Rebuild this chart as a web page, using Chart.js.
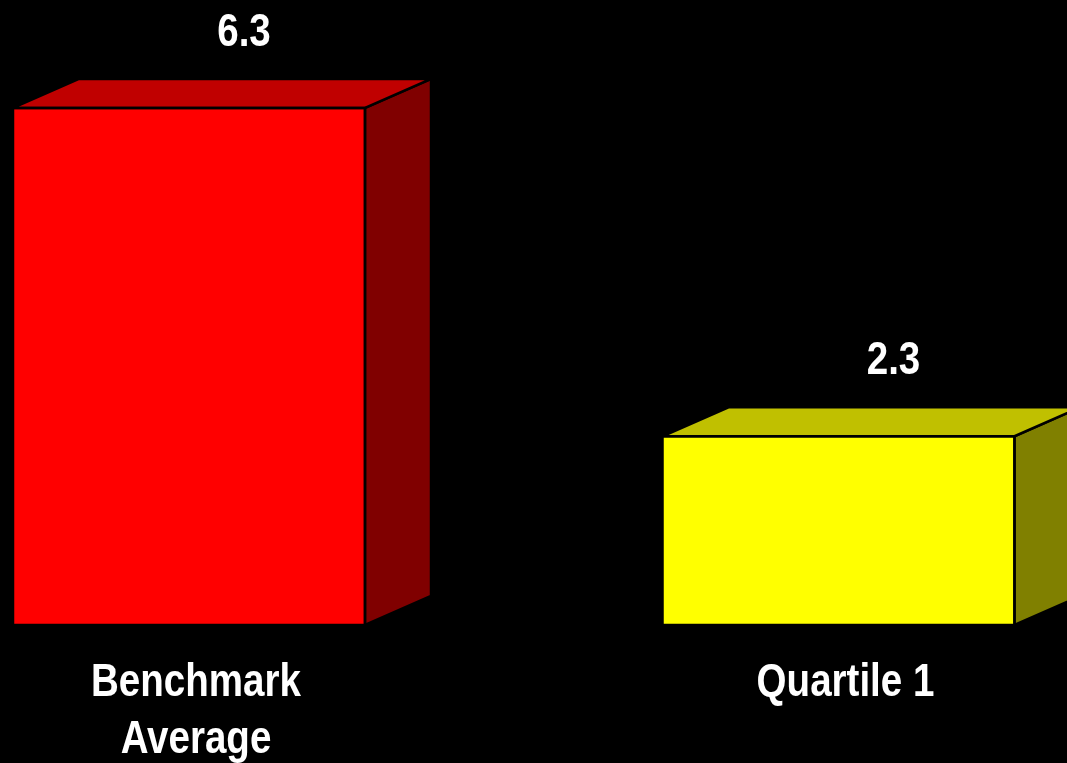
<!DOCTYPE html>
<html>
<head>
<meta charset="utf-8">
<script src="https://cdn.jsdelivr.net/npm/chart.js@4/dist/chart.umd.min.js"></script>
<style>
  html, body { margin: 0; padding: 0; background: #000; }
  #wrap { width: 1067px; height: 763px; position: relative; }
</style>
</head>
<body>
<div id="wrap"><canvas id="chart"></canvas></div>
<script>
const categories = [["Benchmark", "Average"], ["Quartile 1"]];
const values = [6.3, 2.3];
const frontColors = ["#FF0000", "#FFFF00"];
const topColors = ["#C00000", "#C0C000"];
const sideColors = ["#800000", "#808000"];

// no narrow face installed, so squeeze Liberation Sans to look like Arial Narrow
const labelFont = "bold 47px 'Liberation Sans', Arial, sans-serif";
const narrow = 0.82;

// depth of the fake 3d boxes
const depthX = 66;
const depthY = 29;

function narrowText(ctx, text, x, y) {
    ctx.save();
    ctx.translate(x, y);
    ctx.scale(narrow, 1);
    ctx.fillText(text, 0, 0);
    ctx.restore();
}

const bars3d = {
    id: "bars3d",
    afterDatasetsDraw(chart) {
        const ctx = chart.ctx;
        const meta = chart.getDatasetMeta(0);
        ctx.save();
        ctx.lineWidth = 2.5;
        ctx.strokeStyle = "#000";
        ctx.lineJoin = "miter";
        meta.data.forEach((bar, i) => {
            const l = bar.x - bar.width / 2;
            const r = bar.x + bar.width / 2;
            const t = bar.y;
            const b = bar.base;

            // side
            ctx.beginPath();
            ctx.moveTo(r, t);
            ctx.lineTo(r + depthX, t - depthY);
            ctx.lineTo(r + depthX, b - depthY);
            ctx.lineTo(r, b);
            ctx.closePath();
            ctx.fillStyle = sideColors[i];
            ctx.fill();
            ctx.stroke();

            // top
            ctx.beginPath();
            ctx.moveTo(l, t);
            ctx.lineTo(l + depthX, t - depthY);
            ctx.lineTo(r + depthX, t - depthY);
            ctx.lineTo(r, t);
            ctx.closePath();
            ctx.fillStyle = topColors[i];
            ctx.fill();
            ctx.stroke();

            // front outline
            ctx.strokeRect(l, t, r - l, b - t);

            // value label
            ctx.fillStyle = "#fff";
            ctx.font = labelFont;
            ctx.textAlign = "center";
            ctx.textBaseline = "alphabetic";
            narrowText(ctx, values[i].toFixed(1), bar.x + 55, t - 62);

            // category label
            categories[i].forEach((line, j) => {
                narrowText(ctx, line, bar.x + 7, 696 + j * 57);
            });
        });
        ctx.restore();
    }
};

const ctx = document.getElementById("chart").getContext("2d");

new Chart(ctx, {
    type: "bar",
    data: {
        labels: categories.map(c => c.join(" ")),
        datasets: [{
            data: values,
            backgroundColor: frontColors,
            borderWidth: 0,
            barThickness: 352,
            clip: false
        }]
    },
    options: {
        responsive: true,
        maintainAspectRatio: false,
        animation: false,
        layout: {
            padding: { left: 189, right: 228.5, top: 9.5, bottom: 138 }
        },
        plugins: {
            legend: { display: false },
            tooltip: { enabled: false }
        },
        scales: {
            x: {
                type: "category",
                offset: false,
                display: false,
                grid: { display: false }
            },
            y: {
                min: 0,
                max: 7.5,
                display: false,
                grid: { display: false }
            }
        }
    },
    plugins: [bars3d]
});
</script>
</body>
</html>
